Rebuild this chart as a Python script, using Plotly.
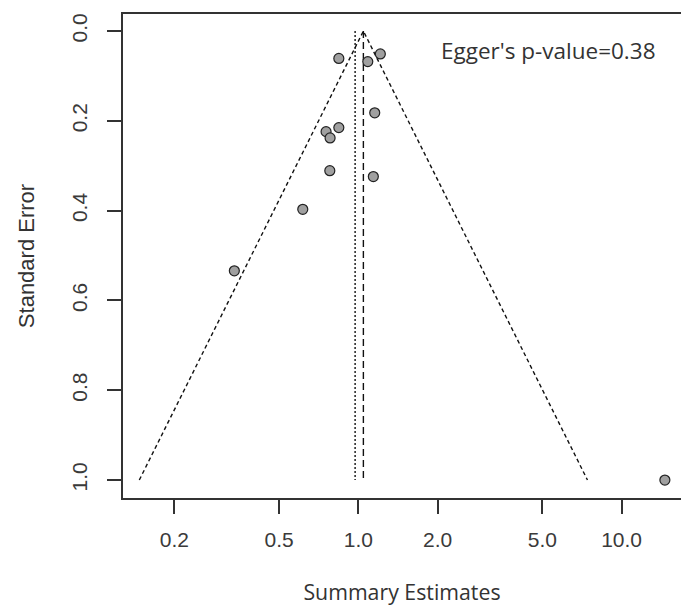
import numpy as np
import plotly.graph_objects as go

# Study-level estimates (ratio scale) and their standard errors
effect = [0.843, 1.086, 1.212, 1.154, 0.754, 0.843, 0.781, 0.779, 1.140, 0.615, 0.338, 14.6]
std_err = [0.061, 0.068, 0.051, 0.182, 0.224, 0.215, 0.238, 0.311, 0.324, 0.397, 0.534, 1.0]

# Pooled estimates drawn as vertical reference lines
pooled_dashed = 1.045
pooled_dotted = 0.972
se_max = 1.0
z = 1.96

x_ticks = [0.2, 0.5, 1.0, 2.0, 5.0, 10.0]
x_tick_text = ["0.2", "0.5", "1.0", "2.0", "5.0", "10.0"]
y_ticks = [0.0, 0.2, 0.4, 0.6, 0.8, 1.0]
y_tick_text = ["0.0", "0.2", "0.4", "0.6", "0.8", "1.0"]

egger_text = "Egger's p-value=0.38"

ink = "#333333"
tick_font = dict(family="Liberation Sans, Arial", size=21, color="#3a3a3a")

fig = go.Figure()

# Pseudo 95% confidence funnel around the pooled estimate
lo = pooled_dashed * np.exp(-z * se_max)
hi = pooled_dashed * np.exp(z * se_max)
fig.add_trace(go.Scatter(
    x=[lo, pooled_dashed, hi], y=[se_max, 0.0, se_max],
    mode="lines", line=dict(color="#111111", width=1.4, dash="4px,3px"),
    hoverinfo="skip", showlegend=False))

# Vertical reference lines
fig.add_trace(go.Scatter(
    x=[pooled_dotted, pooled_dotted], y=[0.0, se_max],
    mode="lines", line=dict(color="#111111", width=1.4, dash="2px,2px"),
    hoverinfo="skip", showlegend=False))
fig.add_trace(go.Scatter(
    x=[pooled_dashed, pooled_dashed], y=[0.0, se_max],
    mode="lines", line=dict(color="#111111", width=1.4, dash="7px,4px"),
    hoverinfo="skip", showlegend=False))

# Individual studies
fig.add_trace(go.Scatter(
    x=effect, y=std_err, mode="markers",
    marker=dict(size=10, color="#a0a0a0", line=dict(color="#222222", width=1.2)),
    showlegend=False))

fig.add_annotation(
    text=egger_text, xref="paper", yref="paper", x=0.7634, y=0.9236,
    xanchor="center", yanchor="middle", showarrow=False,
    font=dict(family="Open Sans, Noto Sans", size=22.5, color=ink))

fig.update_xaxes(
    type="log", range=[-0.894, 1.2256],
    tickvals=x_ticks, ticktext=x_tick_text,
    ticks="outside", ticklen=14, tickwidth=1.5, tickcolor=ink,
    showline=True, linewidth=1.5, linecolor=ink, mirror=True,
    showgrid=False, zeroline=False, tickfont=tick_font,
    ticklabelstandoff=8,
    title=dict(text="Summary Estimates", standoff=35,
               font=dict(family="Open Sans, Noto Sans", size=21.3, color=ink)))

fig.update_yaxes(
    range=[1.04, -0.038],
    tickvals=y_ticks, ticktext=y_tick_text, tickangle=-90,
    ticks="outside", ticklen=14, tickwidth=1.5, tickcolor=ink,
    showline=True, linewidth=1.5, linecolor=ink, mirror=False,
    showgrid=False, zeroline=False, tickfont=tick_font,
    ticklabelstandoff=12,
    title=dict(text="Standard Error", standoff=27,
               font=dict(family="Liberation Sans, Arial", size=22, color=ink)))

fig.update_layout(
    width=681, height=608, autosize=False,
    margin=dict(l=123, r=0, t=14, b=110),
    plot_bgcolor="white", paper_bgcolor="white")

fig.write_html("out.html")
